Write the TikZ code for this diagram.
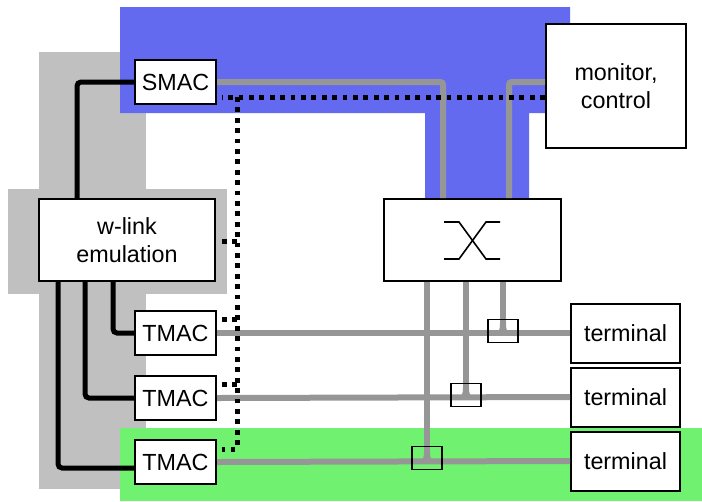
\documentclass[tikz,border=0pt]{standalone}
\usepackage{fontspec}
\setmainfont{Liberation Sans}
\usetikzlibrary{calc, positioning}
\definecolor{rfgray}{RGB}{150,150,150}
\definecolor{zonegray}{RGB}{192,192,192}
\definecolor{ctrlblue}{RGB}{100,106,240}
\definecolor{termgreen}{RGB}{112,242,112}
\newcommand{\px}{0.75pt}

\begin{document}
\begin{tikzpicture}[x=0.75pt, y=-0.75pt,
  box/.style={draw, line width=1.5pt, fill=white, inner sep=0pt, align=center,
    font=\fontsize{17.5}{21}\selectfont},
  mac/.style={box, minimum width=81*\px, minimum height=44*\px},
  termbox/.style={box, minimum width=109*\px, minimum height=59*\px},
  rf/.style={rfgray, line width=4.5pt, rounded corners=2pt},
  ctl/.style={black, line width=3.75pt, rounded corners=3pt},
  mg/.style={black, line width=3.75pt, dash pattern=on 3.6pt off 4.2pt},
  tap/.style={draw, line width=1.2pt, minimum width=30*\px, minimum height=23*\px, inner sep=0pt}]
  \useasboundingbox (0,0) rectangle (702,501);

  % Zones
  \fill[zonegray] (39,52) rectangle (146,489);
  \fill[zonegray] (8,189) rectangle (227,294);
  \fill[ctrlblue] (120,7) -- (570,7) -- (570,113) -- (529,113) -- (529,199)
    -- (425,199) -- (425,113) -- (120,113) -- cycle;
  \fill[termgreen] (120,428) rectangle (702,501);

  % Blocks
  \node[mac] (smac) at (175.5,82) {SMAC};
  \node[box, minimum width=176*\px, minimum height=82*\px] (wl) at (127,240) {w-link\\emulation};
  \node[mac] (tmac1) at (175.5,333) {TMAC};
  \node[mac] (tmac2) at (175.5,398) {TMAC};
  \node[mac] (tmac3) at (175.5,462) {TMAC};
  \node[box, minimum width=140*\px, minimum height=124*\px] (mon) at (616,86) {monitor,\\control};
  \node[box, minimum width=177*\px, minimum height=82*\px] (sw) at (472.5,240) {};
  \node[termbox] (term1) at (625.5,333) {terminal};
  \node[termbox] (term2) at (625.5,397) {terminal};
  \node[termbox] (term3) at (625.5,461) {terminal};

  % Switch symbol
  \draw[line width=1.2pt] (444,222) -- (459,222) -- (486,259) -- (500,259);
  \draw[line width=1.2pt] (444,259) -- (459,259) -- (486,222) -- (500,222);

  % Radio paths
  \coordinate (u1) at (443,0);
  \coordinate (u2) at (509,0);
  \draw[rf] (smac.east) -| (sw.north -| u1);
  \draw[rf] (mon.west |- smac.east) -| (sw.north -| u2);
  \draw[rf] (tmac1.east) -- (term1.west);
  \draw[rf] (tmac2.east) -- (term2.west);
  \draw[rf] (tmac3.east) -- (term3.west);
  \coordinate (j1) at (503,333);
  \coordinate (j2) at (466,397);
  \coordinate (j3) at (427,461);
  \foreach \j in {j1, j2, j3} {
    \draw[rf] (sw.south -| \j) -- (\j);
    \fill[rfgray] ($(\j)+(-11,0)$) .. controls ($(\j)+(-3,0)$) and ($(\j)+(-3,-3)$) .. ($(\j)+(-3,-11)$)
      -- ($(\j)+(3,-11)$) .. controls ($(\j)+(3,-3)$) and ($(\j)+(3,0)$) .. ($(\j)+(11,0)$) -- cycle;
  }
  \node[tap] (q1) at ($(j1)+(0,-2)$) {};
  \node[tap] (q2) at ($(j2)+(0,-2)$) {};
  \node[tap] (q3) at ($(j3)+(0,-3)$) {};

  % Control links
  \coordinate (b0) at (77,0);
  \coordinate (b1) at (113,0);
  \coordinate (b2) at (85,0);
  \coordinate (b3) at (58,0);
  \draw[ctl] (smac.west) -| (wl.north -| b0);
  \draw[ctl] (wl.south -| b1) |- (tmac1.west);
  \draw[ctl] (wl.south -| b2) |- (tmac2.west);
  \draw[ctl] (wl.south -| b3) |- ([yshift=-4.5pt]tmac3.west);

  % Management bus
  \coordinate (d0) at (237,97);
  \coordinate (d1) at (237,449);
  \draw[mg] (mon.west |- d0) -- (222,97);
  \draw[mg] (d0) -- (d1) -- (222,449);
  \foreach \y in {241, 319, 384} {
    \draw[mg] (222,\y) -- (237,\y);
  }
\end{tikzpicture}
\end{document}
